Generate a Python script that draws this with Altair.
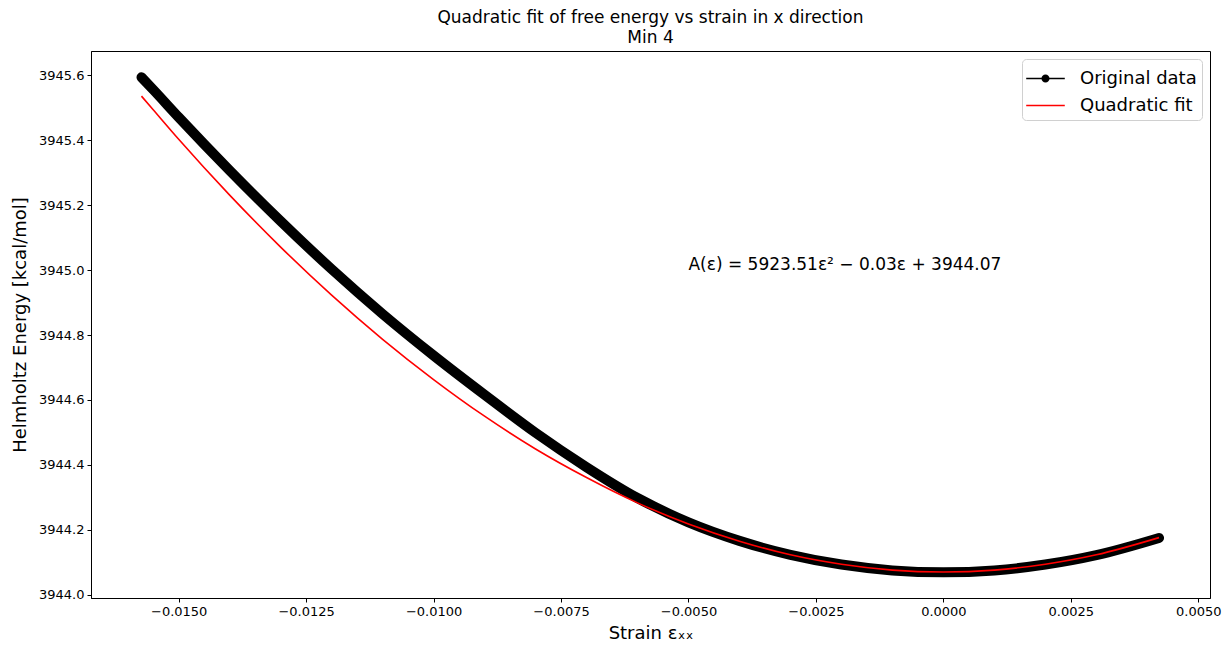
import altair as alt
import pandas as pd

# ---- data ----
orig_strain = [-0.01573, -0.0155, -0.0150, -0.0140, -0.0130, -0.0120, -0.0110, -0.0100,
               -0.0090, -0.0080, -0.0070, -0.0060, -0.0050, -0.0040, -0.0030, -0.0020,
               -0.0010, 0.0000, 0.0010, 0.0020, 0.0030, 0.00423]
orig_energy = [3945.594, 3945.556, 3945.471, 3945.307, 3945.151, 3945.003, 3944.865, 3944.737,
               3944.616, 3944.499, 3944.393, 3944.298, 3944.223, 3944.166, 3944.123, 3944.093,
               3944.075, 3944.069, 3944.075, 3944.093, 3944.122, 3944.175]

fit_strain = [-0.01573, -0.0155, -0.0150, -0.0140, -0.0130, -0.0120, -0.0110, -0.0100,
              -0.0090, -0.0080, -0.0070, -0.0060, -0.0050, -0.0040, -0.0030, -0.0020,
              -0.0010, 0.0000, 0.0010, 0.0020, 0.0030, 0.00423]
fit_energy = [3945.536, 3945.494, 3945.403, 3945.231, 3945.071, 3944.923, 3944.787, 3944.663,
              3944.550, 3944.449, 3944.361, 3944.283, 3944.218, 3944.165, 3944.123, 3944.094,
              3944.076, 3944.070, 3944.076, 3944.094, 3944.123, 3944.176]

series_names = ["Original data", "Quadratic fit"]
series_colors = ["#000000", "#ff0000"]

x_ticks = [-0.015, -0.0125, -0.01, -0.0075, -0.005, -0.0025, 0.0, 0.0025, 0.005]
y_ticks = [3944.0, 3944.2, 3944.4, 3944.6, 3944.8, 3945.0, 3945.2, 3945.4, 3945.6]
x_domain = [-0.01672, 0.00523]
y_domain = [3943.99, 3945.675]

ann_x = [-0.005]
ann_y = [3945.0]
ann_text = ["A(ε) = 5923.51ε² − 0.03ε + 3944.07"]

FONT = "DejaVu Sans"

df_orig = pd.DataFrame({"strain": orig_strain, "energy": orig_energy})
df_fit = pd.DataFrame({"strain": fit_strain, "energy": fit_energy})
df_ann = pd.DataFrame({"strain": ann_x, "energy": ann_y, "label": ann_text})
df_leg = pd.DataFrame({"strain": pd.Series([], dtype=float),
                       "energy": pd.Series([], dtype=float),
                       "series": pd.Series([], dtype=str)})

x_enc = alt.X("strain:Q",
              scale=alt.Scale(domain=x_domain, nice=False, zero=False),
              axis=alt.Axis(values=x_ticks, title="Strain εₓₓ",
                            labelExpr="replace(format(datum.value, '.4f'), '-', '−')",
                            titlePadding=6))
y_enc = alt.Y("energy:Q",
              scale=alt.Scale(domain=y_domain, nice=False, zero=False),
              axis=alt.Axis(values=y_ticks, format=".1f",
                            title="Helmholtz Energy [kcal/mol]", titlePadding=9))

# legend glyphs: line with a dot, and a plain line (filled paths in unit space)
glyph_line_dot = ("M-1.33,-0.05H-0.26V0.05H-1.33Z M0.26,-0.05H1.33V0.05H0.26Z "
                  "M0.28,0A0.28,0.28,0,1,1,-0.28,0A0.28,0.28,0,1,1,0.28,0Z")
glyph_line = "M-1.33,-0.05H1.33V0.05H-1.33Z"

leg = alt.Legend(
    title=None, orient="top-right", offset=8, padding=5,
    fillColor="white", strokeColor="#d0d0d0", cornerRadius=4,
    labelFont=FONT, labelFontSize=18, labelColor="#000000",
    symbolSize=841, symbolStrokeWidth=0, symbolOpacity=1, symbolOffset=4,
    labelOffset=20, rowPadding=3,
)

legend_layer = alt.Chart(df_leg).mark_point(filled=True, opacity=1).encode(
    x=alt.X("strain:Q"), y=alt.Y("energy:Q"),
    color=alt.Color("series:N", scale=alt.Scale(domain=series_names, range=series_colors), legend=leg),
    shape=alt.Shape("series:N", scale=alt.Scale(domain=series_names, range=[glyph_line_dot, glyph_line]), legend=leg),
)

black = alt.Chart(df_orig).mark_line(
    color="#000000", strokeWidth=10, strokeCap="round", strokeJoin="round", interpolate="monotone"
).encode(x=x_enc, y=y_enc)

red = alt.Chart(df_fit).mark_line(
    color="#ff0000", strokeWidth=1.6, interpolate="monotone"
).encode(x=x_enc, y=y_enc)

ann = alt.Chart(df_ann).mark_text(
    align="left", baseline="alphabetic", font=FONT, fontSize=17, color="#000000"
).encode(x="strain:Q", y="energy:Q", text="label:N")

chart = alt.layer(black, red, ann, legend_layer).properties(
    width=1119, height=547,
    background="white",
    title=alt.TitleParams(
        text=["Quadratic fit of free energy vs strain in x direction", "Min 4"],
        font=FONT, fontSize=17, fontWeight="normal", color="#000000",
        anchor="middle", frame="group", offset=4, lineHeight=20,
    ),
    autosize=alt.AutoSizeParams(type="none"),
    padding={"left": 91, "top": 51, "right": 18, "bottom": 50},
).configure_view(
    stroke="#000000", strokeWidth=1
).configure_axis(
    grid=False, domainColor="#000000", domainWidth=1,
    tickColor="#000000", tickSize=4, tickWidth=1,
    labelColor="#000000", labelFont=FONT, labelFontSize=13, labelPadding=3,
    titleColor="#000000", titleFont=FONT, titleFontSize=18, titleFontWeight="normal",
)

chart.save("out.html", embed_options={"renderer": "svg", "actions": False})
